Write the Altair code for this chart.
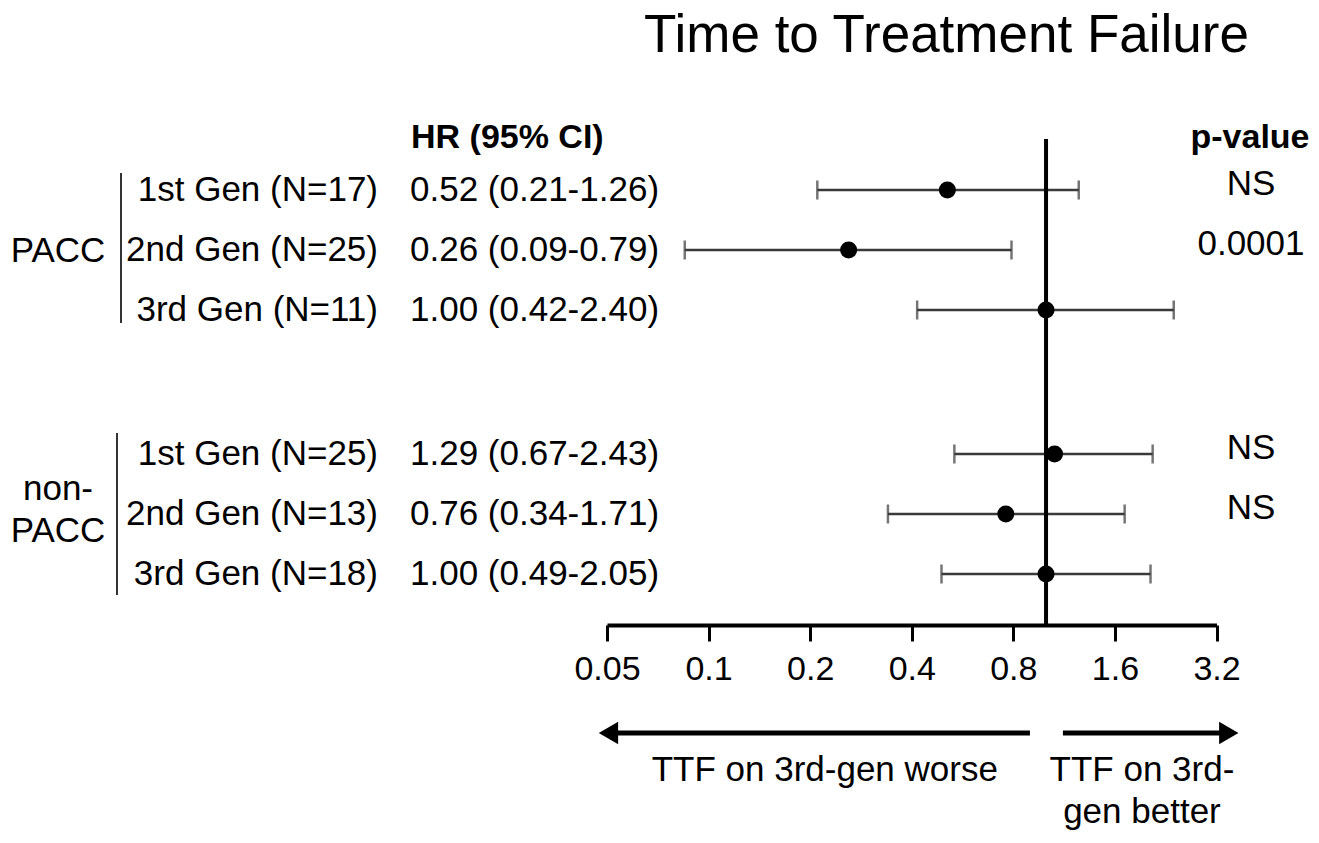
import altair as alt
import pandas as pd

FONT = "Liberation Sans"

# ---- data ----
labels = ["1st Gen (N=17)", "2nd Gen (N=25)", "3rd Gen (N=11)",
          "1st Gen (N=25)", "2nd Gen (N=13)", "3rd Gen (N=18)"]
hr_text = ["0.52 (0.21-1.26)", "0.26 (0.09-0.79)", "1.00 (0.42-2.40)",
           "1.29 (0.67-2.43)", "0.76 (0.34-1.71)", "1.00 (0.49-2.05)"]
p_text = ["NS", "0.0001", "", "NS", "NS", ""]
row_pos = [1, 2, 3, 5.4, 6.4, 7.4]
hr = [0.51, 0.26, 1.00, 1.06, 0.76, 1.00]
ci_lo = [0.21, 0.085, 0.415, 0.535, 0.34, 0.49]
ci_hi = [1.25, 0.79, 2.39, 2.07, 1.71, 2.04]
tick_values = [0.05, 0.1, 0.2, 0.4, 0.8, 1.6, 3.2]

group_text = ["PACC", "non-", "PACC"]
group_row = [2.2, 6.167, 6.867]

header_row = [0.3]
ref_x = [1.0]
ref_top = [0.15]
ref_bottom = [8.25]

bracket_top = [0.717, 5.05]
bracket_bottom = [3.217, 7.75]

arrow_row = [10.05]
arrow_left = [0.896, 0.0505]   # shaft start, head
arrow_right = [1.122, 3.48]    # shaft start, head
note_text = ["TTF on 3rd-gen worse", "TTF on 3rd-", "gen better"]
note_x = [0.221, 1.924, 1.924]
note_row = [10.67, 10.67, 11.37]

df = pd.DataFrame({"label": labels, "hr_text": hr_text, "p": p_text,
                   "row": row_pos, "hr": hr, "lo": ci_lo, "hi": ci_hi})

xscale = alt.Scale(type="log", domain=[0.05, 3.2], range=[599, 1208.5], nice=False)
yscale = alt.Scale(domain=[1, 7.4], range=[122, 506], nice=False, zero=False)

x_axis = alt.Axis(values=tick_values, format="~g", title=None, grid=False,
                  domainWidth=4, domainColor="black", tickWidth=3, tickSize=16,
                  tickColor="black", labelFontSize=34, labelFont=FONT,
                  labelColor="black", labelPadding=11, labelFlush=False,
                  labelOverlap=False)


def X(field):
    return alt.X(field, type="quantitative", scale=xscale, axis=x_axis)


def Y(field):
    return alt.Y(field, type="quantitative", scale=yscale, axis=None)


whisk = alt.Chart(df).mark_rule(strokeWidth=2.5, color="#3a3a3a").encode(
    x=X("lo"), x2="hi", y=Y("row"))
cap_lo = alt.Chart(df).mark_tick(orient="vertical", size=19, thickness=2.5,
                                 color="#3a3a3a").encode(x=X("lo"), y=Y("row"))
cap_hi = alt.Chart(df).mark_tick(orient="vertical", size=19, thickness=2.5,
                                 color="#3a3a3a").encode(x=X("hi"), y=Y("row"))

ref_df = pd.DataFrame({"x": ref_x, "y1": ref_top, "y2": ref_bottom})
ref = alt.Chart(ref_df).mark_rule(strokeWidth=4, color="black").encode(
    x=X("x"), y=Y("y1"), y2="y2")

pts = alt.Chart(df).mark_circle(size=290, color="black", opacity=1).encode(
    x=X("hr"), y=Y("row"))

txt_kw = dict(font=FONT, fontSize=35, color="black")
lab = alt.Chart(df).mark_text(align="right", baseline="middle", **txt_kw).encode(
    x=alt.value(370), y=Y("row"), text="label")
hrt = alt.Chart(df).mark_text(align="left", baseline="middle", **txt_kw).encode(
    x=alt.value(402), y=Y("row"), text="hr_text")
pv = alt.Chart(df).mark_text(align="center", baseline="middle", dy=-6, **txt_kw).encode(
    x=alt.value(1243), y=Y("row"), text="p")

hdr_df = pd.DataFrame({"row": header_row, "hr": ["HR (95% CI)"], "p": ["p-value"]})
hdr_kw = dict(font=FONT, fontSize=34, fontWeight="bold", color="black", baseline="alphabetic")
hdr1 = alt.Chart(hdr_df).mark_text(align="left", **hdr_kw).encode(
    x=alt.value(403), y=Y("row"), text="hr")
hdr2 = alt.Chart(hdr_df).mark_text(align="center", **hdr_kw).encode(
    x=alt.value(1242), y=Y("row"), text="p")

grp_df = pd.DataFrame({"t": group_text, "row": group_row})
grp = alt.Chart(grp_df).mark_text(align="center", baseline="alphabetic", **txt_kw).encode(
    x=alt.value(50), y=Y("row"), text="t")

br1 = alt.Chart(pd.DataFrame({"a": [bracket_top[0]], "b": [bracket_bottom[0]]})).mark_rule(
    strokeWidth=2, color="#333").encode(x=alt.value(113), y=Y("a"), y2="b")
br2 = alt.Chart(pd.DataFrame({"a": [bracket_top[1]], "b": [bracket_bottom[1]]})).mark_rule(
    strokeWidth=2, color="#333").encode(x=alt.value(109), y=Y("a"), y2="b")

arr_df = pd.DataFrame({"x1": [arrow_left[0], arrow_right[0]],
                       "x2": [arrow_left[1], arrow_right[1]],
                       "row": arrow_row * 2})
shafts = alt.Chart(arr_df).mark_rule(strokeWidth=5, color="black").encode(
    x=X("x1"), x2="x2", y=Y("row"))
heads_l = alt.Chart(arr_df.iloc[[0]]).mark_point(
    shape="triangle-left", filled=True, size=500, color="black", opacity=1).encode(
    x=X("x2"), y=Y("row"))
heads_r = alt.Chart(arr_df.iloc[[1]]).mark_point(
    shape="triangle-right", filled=True, size=500, color="black", opacity=1).encode(
    x=X("x2"), y=Y("row"))

note_df = pd.DataFrame({"t": note_text, "x": note_x, "row": note_row})
notes = alt.Chart(note_df).mark_text(align="center", baseline="middle", **txt_kw).encode(
    x=X("x"), y=Y("row"), text="t")

chart = alt.layer(
    whisk, cap_lo, cap_hi, ref, pts, lab, hrt, pv, hdr1, hdr2, grp, br1, br2,
    shafts, heads_l, heads_r, notes
).properties(
    width=1303, height=557,
    autosize=alt.AutoSizeParams(type="none"),
    padding={"top": 60, "bottom": 210, "left": 0, "right": 0},
    title=alt.TitleParams("Time to Treatment Failure", font=FONT, fontSize=53,
                          fontWeight="normal", color="black", anchor="middle",
                          dx=287, frame="group", offset=5),
).configure(font=FONT).configure_view(stroke=None)

chart.save("out.html", embed_options={"renderer": "svg", "actions": False})
